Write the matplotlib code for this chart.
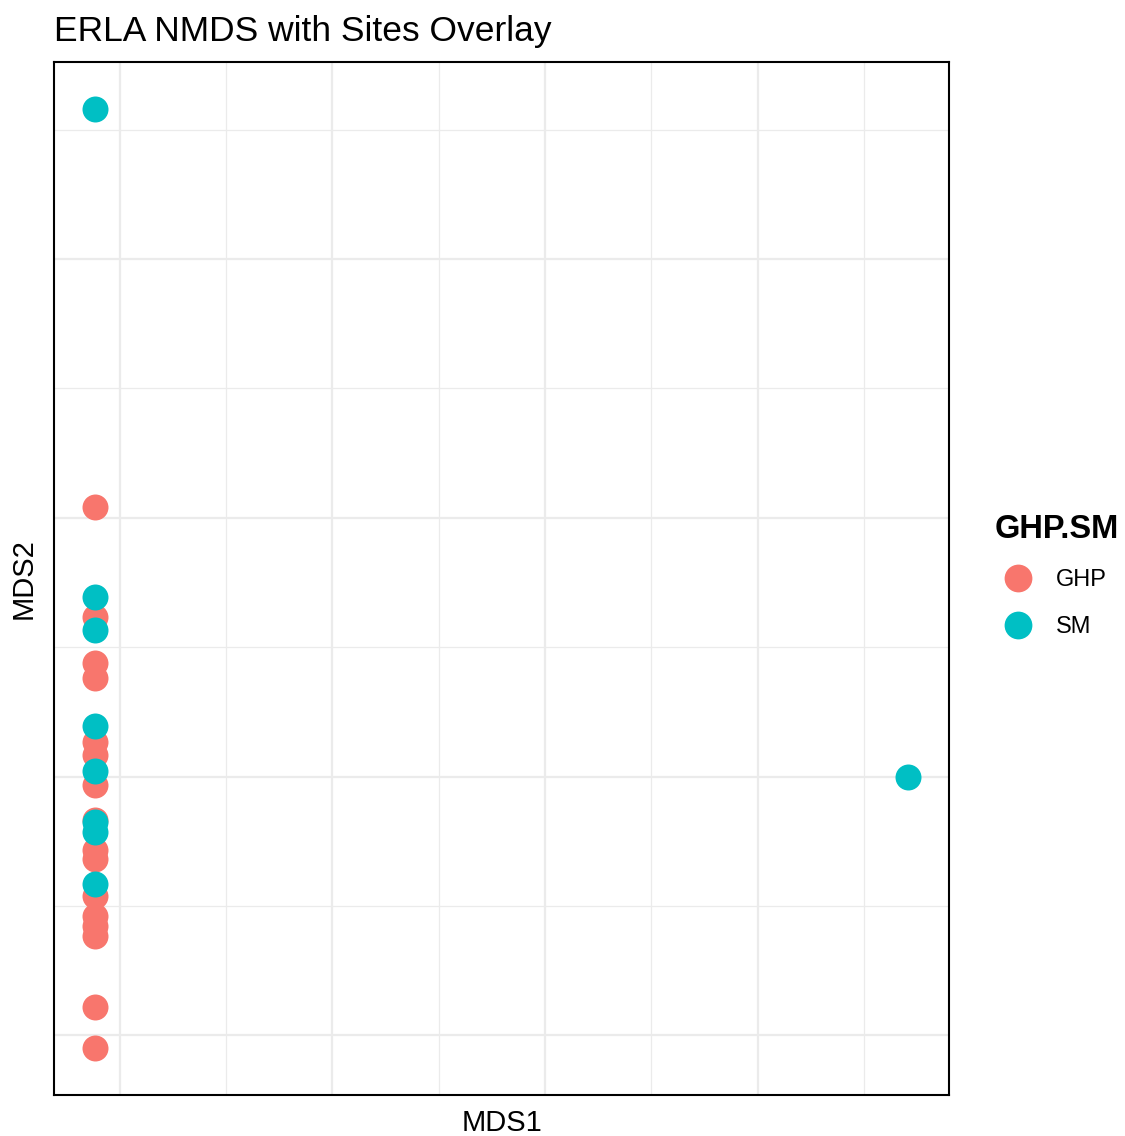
import matplotlib
matplotlib.use("Agg")
import matplotlib.pyplot as plt
from matplotlib.lines import Line2D

plt.rcParams["font.family"] = ["Liberation Sans", "DejaVu Sans"]

# NMDS site scores, split by group
ghp_mds1 = [-0.117] * 16
ghp_mds2 = [1.041, 0.617, 0.440, 0.382, 0.135, 0.085, -0.031, -0.166,
            -0.282, -0.320, -0.463, -0.540, -0.578, -0.617, -0.891, -1.049]
sm_mds1 = [-0.117, -0.117, -0.117, -0.117, -0.117, -0.117, -0.117, -0.117, 3.709]
sm_mds2 = [2.580, 0.694, 0.567, 0.197, 0.023, -0.177, -0.216, -0.416, 0.0]

groups = ["GHP", "SM"]
colors = {"GHP": "#F8766D", "SM": "#00BFC4"}

fig = plt.figure(figsize=(11.25, 11.36), dpi=100)
ax = fig.add_axes([0.048, 0.0361, 0.7956, 0.9093])

ax.scatter(ghp_mds1, ghp_mds2, s=350, color=colors["GHP"], linewidths=0, zorder=3)
ax.scatter(sm_mds1, sm_mds2, s=350, color=colors["SM"], linewidths=0, zorder=3)

# ggplot-style 5% expansion on both axes
xs = ghp_mds1 + sm_mds1
ys = ghp_mds2 + sm_mds2
xr = max(xs) - min(xs)
yr = max(ys) - min(ys)
ax.set_xlim(min(xs) - 0.05 * xr, max(xs) + 0.05 * xr)
ax.set_ylim(min(ys) - 0.05 * yr, max(ys) + 0.05 * yr)

ax.set_xticks([0, 1, 2, 3])
ax.set_xticks([0.5, 1.5, 2.5, 3.5], minor=True)
ax.set_yticks([-1, 0, 1, 2])
ax.set_yticks([-0.5, 0.5, 1.5, 2.5], minor=True)
ax.grid(which="major", color="#EBEBEB", linewidth=1.6)
ax.grid(which="minor", color="#EBEBEB", linewidth=0.9)
ax.set_axisbelow(True)
ax.tick_params(which="both", length=0, labelbottom=False, labelleft=False)

for sp in ax.spines.values():
    sp.set_color("black")
    sp.set_linewidth(1.5)

ax.set_xlabel("MDS1", fontsize=21, labelpad=10)
ax.set_ylabel("MDS2", fontsize=21, labelpad=12)
ax.set_title("ERLA NMDS with Sites Overlay", fontsize=25.5, loc="left", pad=15)

handles = [Line2D([], [], marker="o", linestyle="", markersize=20,
                  markerfacecolor=colors[g], markeredgewidth=0, label=g)
           for g in groups]
leg = fig.legend(handles=handles, title="GHP.SM", loc="center left",
                 bbox_to_anchor=(0.865, 0.493), frameon=False, fontsize=17,
                 title_fontproperties={"weight": "bold", "size": 23.5},
                 handletextpad=0.6, labelspacing=1.05)
leg._legend_box.align = "left"

fig.savefig("out.png", dpi=100)
